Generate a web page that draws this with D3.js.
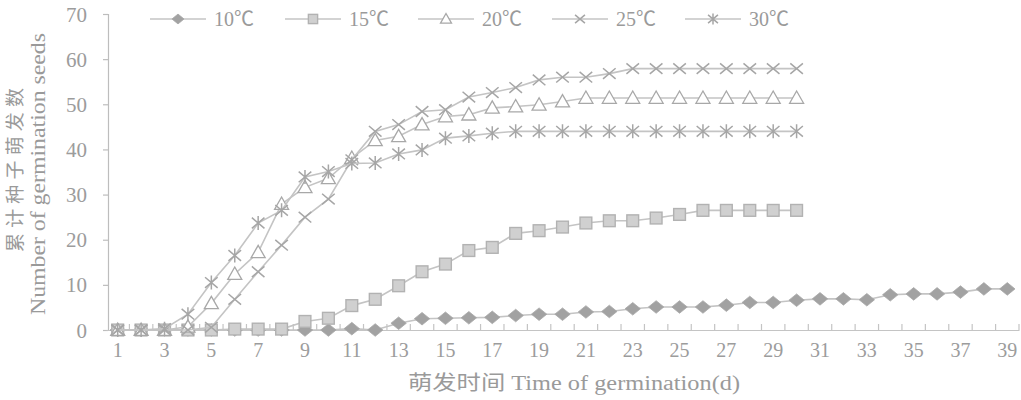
<!DOCTYPE html>
<html>
<head>
<meta charset="utf-8">
<script src="https://d3js.org/d3.v7.min.js"></script>
<style>
    body { margin: 0; background: #fff; }
    text { font-family: "Liberation Serif", "Noto Sans CJK SC", serif; fill: #9a9a9a; }
    .line { fill: none; stroke: #c4c4c4; stroke-width: 1.6px; }
</style>
</head>
<body>
<script>
// days on the x axis
var days = d3.range(1, 40);

// cumulative germinated seeds per temperature
var t10 = [0,0,0,0,0,0,0,0,0,0,0.3,0,1.5,2.5,2.6,2.7,2.8,3.2,3.5,3.5,4,4.1,4.7,5.1,5.1,5.1,5.5,6.1,6.1,6.6,6.9,6.9,6.7,7.8,8,8,8.4,9.1,9.1];
var t15 = [0,0,0,0,0,0.2,0.2,0.2,1.9,2.6,5.4,6.8,9.8,12.9,14.6,17.6,18.3,21.4,22,22.8,23.7,24.2,24.2,24.8,25.6,26.5,26.5,26.5,26.5,26.5];
var t20 = [0,0,0,0.7,5.9,12.4,17.2,27.9,31.6,33.6,38.1,42,42.9,45.5,47.3,47.7,49.2,49.5,49.9,50.6,51.4,51.4,51.4,51.4,51.4,51.4,51.4,51.4,51.4,51.4];
var t25 = [0,0,0,0,0.6,6.8,12.9,18.8,25,29,37.7,44,45.5,48.4,48.8,51.6,52.6,53.7,55.4,56,56,56.8,57.9,57.9,57.9,57.9,57.9,57.9,57.9,57.9];
var t30 = [0,0,0.3,3.5,10.5,16.5,23.7,26.5,33.9,35.1,36.9,37,39,39.9,42.5,43,43.6,44,44,44,44,44,44,44,44,44,44,44,44,44];

var yTicks = [0,10,20,30,40,50,60,70];
var xLabels = days.filter(function(d) { return d % 2 === 1; });

var series = [
    {name: "10℃", values: t10, marker: "diamond"},
    {name: "15℃", values: t15, marker: "square"},
    {name: "20℃", values: t20, marker: "triangle"},
    {name: "25℃", values: t25, marker: "cross"},
    {name: "30℃", values: t30, marker: "star"}
];

var width = 1021, height = 400;
var svg = d3.select("body").append("svg")
    .attr("width", width)
    .attr("height", height);

var x = d3.scaleBand().domain(days).range([106, 1019]);
var y = d3.scaleLinear().domain([0, 70]).range([330, 14]);
var cx = function(d) { return x(d) + x.bandwidth() / 2; };

// y axis
var yAxis = svg.append("g")
    .attr("transform", "translate(108,0)")
    .call(d3.axisLeft(y).tickValues(yTicks).tickSize(5).tickPadding(16));
yAxis.select(".domain").attr("stroke", "#bdbdbd").attr("stroke-width", 1.2);
yAxis.selectAll(".tick line").attr("stroke", "#bdbdbd").attr("stroke-width", 1.2);
yAxis.selectAll(".tick text")
    .style("font-size", "21px")
    .style("fill", "#9c9c9c")
    .attr("dy", "0.34em");

// x axis: labels on odd days, tick marks between categories pointing up
var xAxis = svg.append("g")
    .attr("transform", "translate(0," + y(0) + ")")
    .call(d3.axisBottom(x).tickValues(xLabels).tickSize(0).tickPadding(12));
xAxis.select(".domain").attr("stroke", "#c4c4c4").attr("stroke-width", 1.2);
xAxis.selectAll(".tick text")
    .style("font-size", "20px")
    .style("fill", "#9c9c9c")
    .attr("dy", "0.75em");
xAxis.selectAll(".bound")
    .data(days.slice(1).concat([40]))
    .enter().append("line")
    .attr("class", "bound")
    .attr("x1", function(d) { return d === 40 ? x(39) + x.step() : x(d); })
    .attr("x2", function(d) { return d === 40 ? x(39) + x.step() : x(d); })
    .attr("y1", 0).attr("y2", -6)
    .attr("stroke", "#c4c4c4").attr("stroke-width", 1.2);

// axis titles
svg.append("text")
    .attr("transform", "translate(22,170) rotate(-90)")
    .attr("text-anchor", "middle")
    .attr("textLength", 164)
    .attr("lengthAdjust", "spacing")
    .style("font-size", "19px")
    .text("累计种子萌发数");
svg.append("text")
    .attr("transform", "translate(45,174) rotate(-90)")
    .attr("text-anchor", "middle")
    .attr("textLength", 282)
    .attr("lengthAdjust", "spacingAndGlyphs")
    .style("font-size", "20px")
    .text("Number of germination seeds");
svg.append("text")
    .attr("x", 574).attr("y", 390)
    .attr("text-anchor", "middle")
    .attr("textLength", 332)
    .attr("lengthAdjust", "spacingAndGlyphs")
    .style("font-size", "20px")
    .text("萌发时间 Time of germination(d)");

// marker drawing
function drawMarker(g, type, s) {
    if (type === "diamond") {
        g.append("path")
            .attr("d", "M0," + (-s * 0.45) + "L" + (s * 0.55) + ",0L0," + (s * 0.45) + "L" + (-s * 0.55) + ",0Z")
            .attr("fill", "#a2a2a2").attr("stroke", "#a8a8a8").attr("stroke-width", 0.8);
    } else if (type === "square") {
        var h = s * 0.42;
        g.append("rect")
            .attr("x", -h).attr("y", -h).attr("width", 2 * h).attr("height", 2 * h)
            .attr("fill", "#d0d0d0").attr("stroke", "#b2b2b2").attr("stroke-width", 1.4);
    } else if (type === "triangle") {
        g.append("path")
            .attr("d", "M0," + (-s * 0.5) + "L" + (s * 0.5) + "," + (s * 0.38) + "L" + (-s * 0.5) + "," + (s * 0.38) + "Z")
            .attr("fill", "#fff").attr("stroke", "#a8a8a8").attr("stroke-width", 1.3);
    } else {
        var a = s * 0.45, b = s * 0.38;
        var p = "M" + (-a) + "," + (-b) + "L" + a + "," + b + "M" + (-a) + "," + b + "L" + a + "," + (-b);
        if (type === "star") p += "M0," + (-s * 0.5) + "L0," + (s * 0.5);
        g.append("path")
            .attr("d", p)
            .attr("fill", "none").attr("stroke", "#a6a6a6").attr("stroke-width", 1.5);
    }
}

var line = d3.line()
    .x(function(d, i) { return cx(days[i]); })
    .y(function(d) { return y(d); });

series.forEach(function(s) {
    svg.append("path")
        .attr("class", "line")
        .attr("d", line(s.values));
    s.values.forEach(function(v, i) {
        var g = svg.append("g")
            .attr("transform", "translate(" + cx(days[i]) + "," + y(v) + ")");
        drawMarker(g, s.marker, 14);
    });
});

// legend
var legendX = [150, 285, 418, 552, 685];
var legend = svg.append("g");
series.forEach(function(s, i) {
    var lx = legendX[i];
    legend.append("line")
        .attr("x1", lx).attr("x2", lx + 56)
        .attr("y1", 19).attr("y2", 19)
        .attr("stroke", "#c4c4c4").attr("stroke-width", 1.6);
    drawMarker(legend.append("g").attr("transform", "translate(" + (lx + 28) + ",19)"), s.marker, 11);
    legend.append("text")
        .attr("x", lx + 64).attr("y", 26)
        .style("font-size", "20px")
        .text(s.name);
});
</script>
</body>
</html>
